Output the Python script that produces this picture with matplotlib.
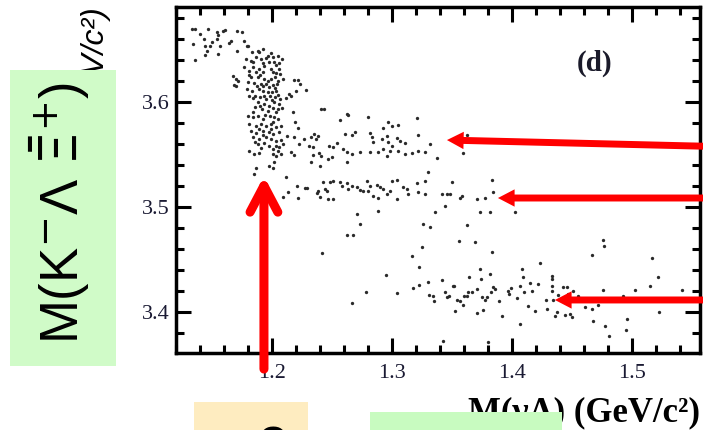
import numpy as np
import matplotlib
matplotlib.use("Agg")
import matplotlib.pyplot as plt
from matplotlib.patches import Rectangle
from matplotlib.ticker import MultipleLocator

# points of panel (d): M(gamma Lambda) vs M(K- Lambda Xibar+)
# sparse group at the top left
x_top = [1.133, 1.136, 1.140, 1.147, 1.143, 1.154, 1.155, 1.159, 1.161, 1.171, 1.175, 1.134,
         1.144, 1.146, 1.148, 1.157, 1.164, 1.166, 1.171, 1.136, 1.144, 1.155, 1.179, 1.183,
         1.154, 1.177, 1.150]
y_top = [3.669, 3.669, 3.664, 3.669, 3.660, 3.666, 3.663, 3.667, 3.668, 3.667, 3.666, 3.655,
         3.653, 3.648, 3.653, 3.653, 3.656, 3.658, 3.648, 3.640, 3.644, 3.645, 3.653, 3.647,
         3.660, 3.658, 3.657]

# dense cluster near 1.19
x_clu = [1.1797, 1.1881, 1.1928, 1.1992, 1.2047, 1.2083, 1.1783, 1.1825, 1.1867, 1.1908,
         1.1950, 1.1978, 1.2019, 1.2033, 1.1844, 1.1889, 1.1936, 1.1992, 1.2061, 1.1769,
         1.1811, 1.1867, 1.1922, 1.2033, 1.2067, 1.1825, 1.1881, 1.1936, 1.1964, 1.1992,
         1.2028, 1.2047, 1.1797, 1.1853, 1.1908, 1.1950, 1.1978, 1.2006, 1.2039, 1.1789,
         1.1833, 1.1894, 1.1928, 1.1964, 1.2000, 1.2033, 1.1811, 1.1861, 1.1900, 1.1936,
         1.1983, 1.2028, 1.2067, 1.2117, 1.2158, 1.1881, 1.1936, 1.1978, 1.2019, 1.2061,
         1.1861, 1.1917, 1.1964, 1.2006, 1.2047, 1.2083, 1.1797, 1.1839, 1.1881, 1.1922,
         1.1983, 1.2019, 1.2047, 1.1811, 1.1867, 1.1908, 1.1950, 1.1992, 1.2033, 1.2075,
         1.1825, 1.1867, 1.1928, 1.1972, 1.2011, 1.2061, 1.1839, 1.1894, 1.1950, 1.1992,
         1.2033, 1.1881, 1.1936, 1.2033, 1.2061, 1.2089, 1.2047, 1.2075, 1.1811, 1.1853,
         1.1894, 1.2006, 1.2033, 1.1867, 1.1853, 1.1972, 1.2006, 1.2019, 1.2117,
         1.1894, 1.1964, 1.2011, 1.1844, 1.1928, 1.2056, 1.1806, 1.1900, 1.2006, 1.2089,
         1.1875, 1.1928, 1.2022, 1.1839, 1.1950, 1.2000, 1.2047, 1.1900, 1.2033, 1.1844,
         1.1944, 1.2006, 1.1894, 1.1992, 1.1928, 1.1861, 1.1972, 1.1908, 1.2006, 1.2075]
y_clu = [3.6532, 3.6484, 3.6500, 3.6462, 3.6437, 3.6405, 3.6405, 3.6389, 3.6421, 3.6405,
         3.6411, 3.6373, 3.6373, 3.6348, 3.6325, 3.6310, 3.6335, 3.6310, 3.6310, 3.6325,
         3.6294, 3.6278, 3.6278, 3.6271, 3.6262, 3.6230, 3.6230, 3.6214, 3.6198, 3.6214,
         3.6230, 3.6198, 3.6183, 3.6176, 3.6167, 3.6167, 3.6135, 3.6157, 3.6167, 3.6119,
         3.6103, 3.6119, 3.6103, 3.6094, 3.6087, 3.6103, 3.6056, 3.6049, 3.6040, 3.6056,
         3.6049, 3.6040, 3.6024, 3.6030, 3.6049, 3.5992, 3.5976, 3.5960, 3.5992, 3.5976,
         3.5944, 3.5929, 3.5913, 3.5935, 3.5929, 3.5935, 3.5865, 3.5849, 3.5859, 3.5833,
         3.5865, 3.5849, 3.5833, 3.5786, 3.5770, 3.5786, 3.5770, 3.5786, 3.5754, 3.5770,
         3.5722, 3.5700, 3.5722, 3.5706, 3.5690, 3.5706, 3.5659, 3.5643, 3.5659, 3.5643,
         3.5627, 3.5595, 3.5605, 3.5579, 3.5563, 3.5595, 3.5532, 3.5500, 3.5532, 3.5500,
         3.5510, 3.5500, 3.5484, 3.5364, 3.5310, 3.5389, 3.5364, 3.5421, 3.5278,
         3.6468, 3.6437, 3.6421, 3.6373, 3.6367, 3.6367, 3.6252, 3.6252, 3.6284, 3.6214,
         3.6151, 3.6144, 3.6125, 3.6030, 3.6024, 3.6017, 3.6062, 3.5960, 3.5897, 3.5903,
         3.5871, 3.5802, 3.5738, 3.5738, 3.5681, 3.5617, 3.5579, 3.5554, 3.5548, 3.5637]

# small group left of the cluster and its right flank
x_side = [1.1672, 1.1700, 1.1714, 1.1686, 1.1700,
          1.2186, 1.2214, 1.2233, 1.2283, 1.2144, 1.2200, 1.2408, 1.2436, 1.2172, 1.2194,
          1.2214, 1.2122, 1.2186, 1.2269, 1.2325, 1.2353, 1.2381, 1.2367, 1.2228, 1.2311,
          1.2339, 1.2158, 1.2186, 1.2339, 1.2394, 1.2408, 1.2325, 1.2400]
y_side = [3.6246, 3.6214, 3.6198, 3.6157, 3.6144,
          3.6208, 3.6208, 3.6167, 3.6113, 3.6071, 3.6103, 3.5929, 3.5929, 3.5897, 3.5802,
          3.5744, 3.5668, 3.5659, 3.5643, 3.5659, 3.5690, 3.5675, 3.5643, 3.5595, 3.5579,
          3.5563, 3.5522, 3.5491, 3.5491, 3.5510, 3.5484, 3.5421, 3.5389]

# upper band around 3.56
x_band1 = [1.2567, 1.2622, 1.2636, 1.2803, 1.2969, 1.2997, 1.3053, 1.3206, 1.2478, 1.2511,
           1.2539, 1.2608, 1.2664, 1.2692, 1.2817, 1.2831, 1.2914, 1.2928, 1.2956, 1.2969,
           1.2997, 1.3039, 1.3067, 1.3108, 1.3219, 1.3317, 1.3622, 1.2594, 1.2622, 1.2664,
           1.2733, 1.2817, 1.2844, 1.2886, 1.2928, 1.2956, 1.2983, 1.3053, 1.3108, 1.3164,
           1.3219, 1.3275, 1.3372, 1.3594, 1.2469, 1.2497, 1.2622]
y_band1 = [3.5827, 3.5881, 3.5872, 3.5849, 3.5808, 3.5770, 3.5776, 3.5840, 3.5580, 3.5570,
           3.5605, 3.5691, 3.5681, 3.5713, 3.5697, 3.5659, 3.5643, 3.5745, 3.5668, 3.5611,
           3.5580, 3.5649, 3.5627, 3.5605, 3.5681, 3.5595, 3.5684, 3.5548, 3.5516, 3.5500,
           3.5516, 3.5516, 3.5611, 3.5516, 3.5548, 3.5478, 3.5532, 3.5532, 3.5500, 3.5510,
           3.5532, 3.5522, 3.5465, 3.5506, 3.5453, 3.5468, 3.5427]

# middle band around 3.515
x_band2 = [1.2094, 1.2136, 1.2206, 1.2219, 1.2275, 1.2289, 1.2372, 1.2386, 1.2400, 1.2428,
           1.2442, 1.2456, 1.2469, 1.2511, 1.2483, 1.2511, 1.2567, 1.2581, 1.2622, 1.2636,
           1.2664, 1.2706, 1.2733, 1.2761, 1.2789, 1.2803, 1.2817, 1.2844, 1.2872, 1.2886,
           1.2900, 1.2928, 1.2956, 1.2983, 1.2997, 1.3039, 1.3039, 1.3094, 1.3122, 1.3136,
           1.3206, 1.3219, 1.3275, 1.3275, 1.3303, 1.3358, 1.3414, 1.3442, 1.3456, 1.3483,
           1.3497, 1.3567, 1.3581, 1.3706, 1.3733, 1.3775, 1.3817, 1.3831, 1.3844, 1.4025,
           1.2706, 1.2733, 1.2886, 1.3261, 1.3317, 1.3622]
y_band2 = [3.5087, 3.5141, 3.5192, 3.5081, 3.5173, 3.5173, 3.5125, 3.5151, 3.5087, 3.5230,
           3.5167, 3.5151, 3.5071, 3.5071, 3.5230, 3.5246, 3.5237, 3.5198, 3.5224, 3.5167,
           3.5192, 3.5183, 3.5160, 3.5151, 3.5246, 3.5151, 3.5192, 3.5103, 3.5205, 3.5078,
           3.5183, 3.5167, 3.5119, 3.5151, 3.5246, 3.5256, 3.5071, 3.5183, 3.5167, 3.5119,
           3.5224, 3.5135, 3.5246, 3.5119, 3.5325, 3.4944, 3.5119, 3.5002, 3.5119, 3.5119,
           3.5237, 3.5078, 3.5097, 3.5071, 3.4951, 3.5078, 3.4951, 3.5253, 3.5135, 3.4945,
           3.4929, 3.4833, 3.4960, 3.4833, 3.4802, 3.4824]

# lower band around 3.415
x_band3 = [1.2622, 1.2678, 1.2414, 1.2664, 1.2783, 1.2950, 1.3044, 1.3164, 1.3228, 1.3253,
           1.3178, 1.3228, 1.3303, 1.3311, 1.3344, 1.3350, 1.3414, 1.3428, 1.3442, 1.3456,
           1.3478, 1.3506, 1.3517, 1.3525, 1.3539, 1.3561, 1.3567, 1.3594, 1.3600, 1.3622,
           1.3636, 1.3644, 1.3664, 1.3692, 1.3706, 1.3711, 1.3733, 1.3739, 1.3747, 1.3761,
           1.3775, 1.3789, 1.3803, 1.3817, 1.3822, 1.3831, 1.3839, 1.3858, 1.3894, 1.3914,
           1.3969, 1.3978, 1.3989, 1.4039, 1.4067, 1.4067, 1.4081, 1.4089, 1.4100, 1.4136,
           1.4150, 1.4164, 1.4192, 1.4219, 1.4233, 1.4283, 1.4289, 1.4331, 1.4331, 1.4331,
           1.4331, 1.4344, 1.4358, 1.4378, 1.4386, 1.4422, 1.4442, 1.4456, 1.4469, 1.4483,
           1.4497, 1.4511, 1.4553, 1.4608, 1.4664, 1.4664, 1.4678, 1.4719, 1.4761, 1.4767,
           1.4761, 1.4775, 1.4811, 1.4928, 1.4950, 1.4961, 1.5025, 1.5150, 1.5164, 1.5219,
           1.5228, 1.5414]
y_band3 = [3.4729, 3.4729, 3.4554, 3.4081, 3.4183, 3.4351, 3.4176, 3.4532, 3.4421, 3.4618,
           3.4221, 3.4253, 3.4278, 3.4157, 3.4151, 3.4097, 3.4303, 3.3722, 3.4189, 3.4135,
           3.4151, 3.4240, 3.4246, 3.4008, 3.4113, 3.4675, 3.4103, 3.4062, 3.4151, 3.4151,
           3.4183, 3.4326, 3.4183, 3.4659, 3.3986, 3.4215, 3.4405, 3.4310, 3.4135, 3.4015,
           3.4113, 3.4135, 3.3713, 3.4357, 3.4183, 3.4570, 3.4230, 3.4215, 3.4103, 3.3961,
           3.4199, 3.4167, 3.4221, 3.4126, 3.3881, 3.4240, 3.4405, 3.4326, 3.4183, 3.4056,
           3.4272, 3.4199, 3.4008, 3.4262, 3.4462, 3.4113, 3.4024, 3.4342, 3.4310, 3.4246,
           3.4199, 3.4113, 3.3961, 3.3999, 3.4157, 3.4230, 3.3967, 3.4230, 3.4167, 3.3976,
           3.3945, 3.4199, 3.4151, 3.4040, 3.4024, 3.4538, 3.3913, 3.4062, 3.4684, 3.4621,
           3.4208, 3.3859, 3.3770, 3.4151, 3.3827, 3.3929, 3.4208, 3.4240, 3.4507, 3.4326,
           3.3992, 3.4208]

XTICKS = [1.2, 1.3, 1.4, 1.5]
YTICKS = [3.4, 3.5, 3.6]

# arrows: (tip, tail) pairs in data units
ARROWS_H = [((1.3458, 3.5633), (1.575, 3.5570)),
            ((1.3883, 3.5081), (1.575, 3.5081)),
            ((1.4358, 3.4110), (1.575, 3.4110))]
ARROW_V = ((1.1933, 3.5290), (1.1933, 3.3452))


def main():
    W, H = 703.0, 430.0
    plt.rcParams['font.family'] = ['Liberation Serif', 'DejaVu Serif']
    fig = plt.figure(figsize=(W / 100, H / 100), dpi=100)
    ax = fig.add_axes([176 / W, 1 - 353 / H, 524 / W, 346 / H])

    x = np.concatenate([x_top, x_clu, x_side, x_band1, x_band2, x_band3])
    y = np.concatenate([y_top, y_clu, y_side, y_band1, y_band2, y_band3])
    ax.plot(x, y, 'o', ms=2.4, mew=0, color='#2a2a2a')

    ax.set_xlim(1.12, 1.5567)
    ax.set_ylim(3.3605, 3.69)
    ax.set_xticks(XTICKS)
    ax.set_yticks(YTICKS)
    ax.xaxis.set_minor_locator(MultipleLocator(0.02))
    ax.yaxis.set_minor_locator(MultipleLocator(0.02))
    ax.tick_params(which='both', direction='in', top=True, right=True, width=2.2,
                   labelsize=16, labelcolor='#1a1a33')
    ax.tick_params(which='major', length=10.5)
    ax.tick_params(which='minor', length=5.5)
    ax.tick_params(axis='x', pad=8)
    ax.tick_params(axis='y', pad=4.5)
    for s in ax.spines.values():
        s.set_linewidth(2.5)

    ax.text(0.798, 0.838, "(d)", transform=ax.transAxes, ha='center', va='center',
            fontsize=21, fontweight='bold', color='#1a1a2a')

    ax.set_xlabel("M(γΛ) (GeV/c²)", loc='right', fontsize=25, fontweight='bold',
                  labelpad=10)
    ax.set_ylabel("M(K⁻ΛΞ̄⁺) (GeV/c²)", loc='top', fontsize=23, style='italic',
                  family=['Liberation Sans', 'DejaVu Sans'], labelpad=22)

    # red arrows
    for tip, tail in ARROWS_H:
        ax.annotate("", xy=tip, xytext=tail, annotation_clip=False, zorder=10,
                    arrowprops=dict(arrowstyle='simple,head_length=12,head_width=12.5,tail_width=5',
                                    color='red', lw=0, mutation_scale=1, shrinkA=0, shrinkB=0))
    ax.annotate("", xy=ARROW_V[0], xytext=ARROW_V[1], annotation_clip=False, zorder=10,
                arrowprops=dict(arrowstyle='->,head_length=19,head_width=10', color='red',
                                lw=6.5, mutation_scale=1, shrinkA=0, shrinkB=0,
                                capstyle='round', joinstyle='round'))

    # highlight boxes pasted over the figure
    fig.add_artist(Rectangle((10 / W, 1 - 366 / H), 106 / W, 296 / H, transform=fig.transFigure,
                             facecolor='#d0fbc8', edgecolor='none', zorder=5))
    fig.add_artist(Rectangle((194 / W, -0.01), 114 / W, 28 / H + 0.01, transform=fig.transFigure,
                             facecolor='#feecc0', edgecolor='none', zorder=5))
    fig.add_artist(Rectangle((370 / W, -0.01), 192 / W, 18 / H + 0.01, transform=fig.transFigure,
                             facecolor='#c8fbc0', edgecolor='none', zorder=5))

    fig.text(60 / W, 1 - 213 / H, "M(K$^{-}$Λ $\\bar{\\Xi}^{+}$)", rotation=90,
             ha='center', va='center', fontsize=38, family=['Liberation Sans', 'DejaVu Sans'],
             color='black', zorder=6)
    fig.text(273 / W, 1 - 451 / H, "o", ha='center', va='baseline', fontsize=30,
             family='DejaVu Sans', fontweight='bold', color='black', zorder=6)

    fig.savefig("out.png", dpi=100)


if __name__ == '__main__':
    main()
